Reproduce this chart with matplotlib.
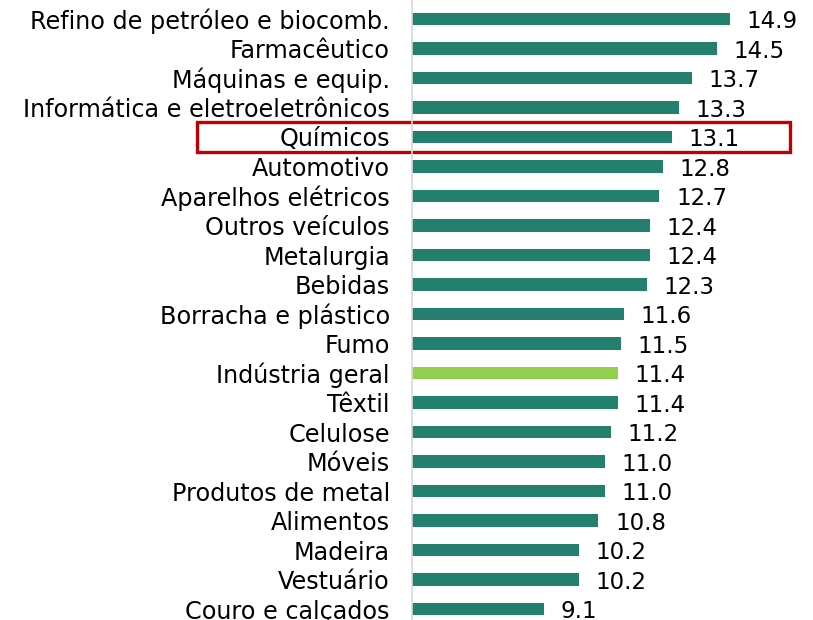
import matplotlib
matplotlib.use("Agg")
import matplotlib.pyplot as plt
import matplotlib.transforms as mtransforms
from matplotlib.patches import Rectangle

categories = [
    "Refino de petróleo e biocomb.", "Farmacêutico", "Máquinas e equip.",
    "Informática e eletroeletrônicos", "Químicos", "Automotivo",
    "Aparelhos elétricos", "Outros veículos", "Metalurgia", "Bebidas",
    "Borracha e plástico", "Fumo", "Indústria geral", "Têxtil", "Celulose",
    "Móveis", "Produtos de metal", "Alimentos", "Madeira", "Vestuário",
    "Couro e calçados",
]
values = [14.9, 14.5, 13.7, 13.3, 13.1, 12.8, 12.7, 12.4, 12.4, 12.3,
          11.6, 11.5, 11.4, 11.4, 11.2, 11.0, 11.0, 10.8, 10.2, 10.2, 9.1]
highlight_bar = "Indústria geral"
boxed = "Químicos"

plt.rcParams['font.family'] = ['DejaVu Sans']

fig = plt.figure(figsize=(8.13, 6.2), dpi=100)
ax = fig.add_axes([412 / 813, 0, 1 - 412 / 813, 1])

colors = ['#92d050' if c == highlight_bar else '#237f6e' for c in categories]
ypos = list(range(len(categories)))
ax.barh(ypos, values, height=0.42, color=colors, left=0)

for y, v in zip(ypos, values):
    ax.annotate(f"{v:.1f}", xy=(v, y), xytext=(12, -2), textcoords='offset points',
                ha='left', va='center', fontsize=16.5, color='black')

ax.set_xlim(5, 17.48)
ax.set_ylim(20.37, -0.643)
ax.set_yticks(ypos)
ax.set_yticklabels(categories, fontsize=17.2)
ax.tick_params(axis='y', length=0, pad=16)
ax.set_xticks([])
for s in ['top', 'right', 'bottom']:
    ax.spines[s].set_visible(False)
ax.spines['left'].set_color('#d9d9d9')
ax.spines['left'].set_linewidth(1.2)

# red box around highlighted row
i = categories.index(boxed)
trans = mtransforms.blended_transform_factory(fig.transFigure, ax.transData)
ax.add_patch(Rectangle((197 / 813, i - 0.52), (790 - 197) / 813, 1.04,
                       transform=trans, fill=False, edgecolor='#c00000',
                       linewidth=2.4, clip_on=False))

fig.savefig("out.png", dpi=100)
